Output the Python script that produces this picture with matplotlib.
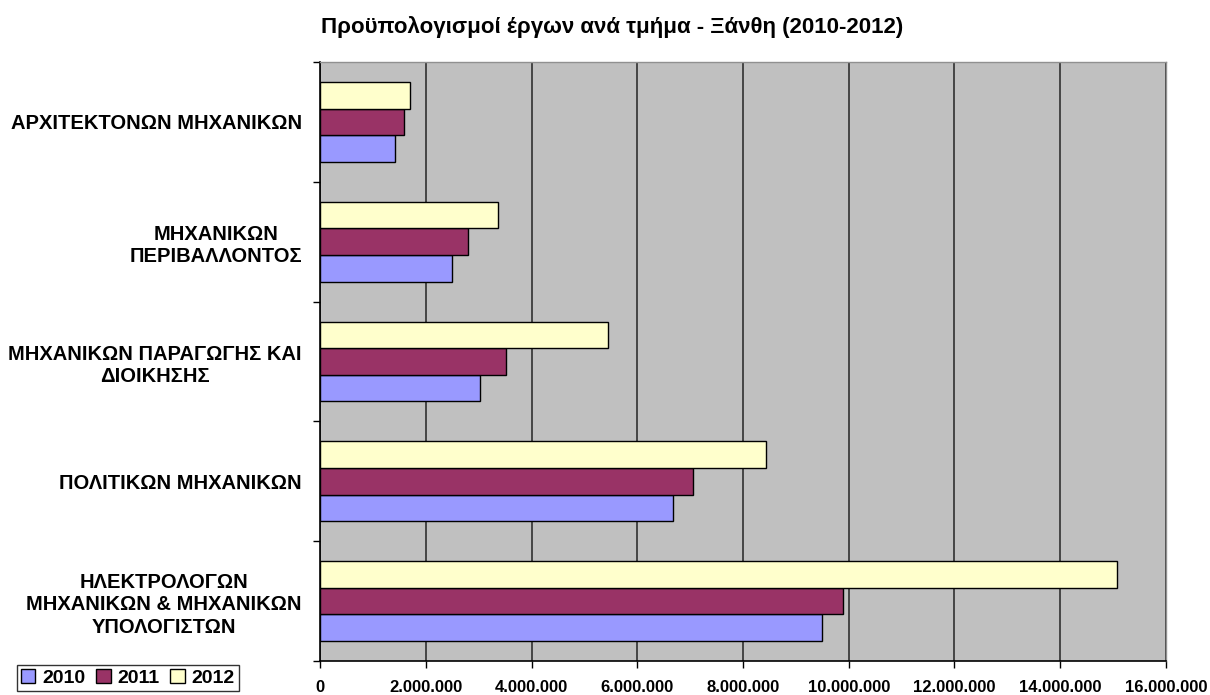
import matplotlib
matplotlib.use('Agg')
import matplotlib.pyplot as plt
from matplotlib.ticker import FuncFormatter
import numpy as np

plt.rcParams['font.family'] = ['Liberation Sans', 'DejaVu Sans']

# data (bottom -> top)
departments = [
    'ΗΛΕΚΤΡΟΛΟΓΩΝ\nΜΗΧΑΝΙΚΩΝ & ΜΗΧΑΝΙΚΩΝ\nΥΠΟΛΟΓΙΣΤΩΝ',
    'ΠΟΛΙΤΙΚΩΝ ΜΗΧΑΝΙΚΩΝ',
    'ΜΗΧΑΝΙΚΩΝ ΠΑΡΑΓΩΓΗΣ ΚΑΙ\nΔΙΟΙΚΗΣΗΣ',
    'ΜΗΧΑΝΙΚΩΝ\nΠΕΡΙΒΑΛΛΟΝΤΟΣ',
    'ΑΡΧΙΤΕΚΤΟΝΩΝ ΜΗΧΑΝΙΚΩΝ',
]
years = ['2010', '2011', '2012']
budget_2010 = [9500000, 6670000, 3030000, 2500000, 1410000]
budget_2011 = [9890000, 7060000, 3520000, 2800000, 1590000]
budget_2012 = [15070000, 8430000, 5450000, 3370000, 1700000]

colors = ['#9999FF', '#993366', '#FFFFCC']
BG = '#C0C0C0'

fig = plt.figure(figsize=(12.1, 6.95), dpi=100)
ax = fig.add_axes([0.2645, 0.0489, 0.6991, 0.8619])
ax.set_facecolor(BG)

y = np.arange(len(departments))
h = 0.222
for i, (vals, col, yr) in enumerate(zip([budget_2010, budget_2011, budget_2012], colors, years)):
    ax.barh(y + (i - 1) * h, vals, height=h, color=col, edgecolor='black',
            linewidth=1.0, label=yr, zorder=3)

ax.set_xlim(0, 16000000)
ax.set_ylim(-0.5, len(departments) - 0.5)
ax.set_xticks(np.arange(0, 16000001, 2000000))
ax.xaxis.set_major_formatter(FuncFormatter(lambda v, p: f'{int(v):,}'.replace(',', '.')))
ax.grid(axis='x', color='#303030', linewidth=1.2, zorder=1)

# category boundaries as ticks, labels at centers
ax.set_yticks(np.arange(-0.5, len(departments), 1.0))
ax.set_yticklabels([])
ax.set_yticks(y, minor=True)
ax.set_yticklabels(departments, minor=True, fontsize=14.5, fontweight='bold',
                   multialignment='center', linespacing=1.25)
ax.tick_params(axis='y', which='minor', length=0, pad=13)
ax.tick_params(axis='y', which='major', length=5, width=1, color='black', direction='out')
ax.tick_params(axis='x', length=5, width=1, color='black', direction='out', pad=9,
               labelsize=12)
for lab in ax.get_xticklabels():
    lab.set_fontweight('bold')

for s in ['top', 'right']:
    ax.spines[s].set_color('#909090')
    ax.spines[s].set_linewidth(1)
for s in ['left', 'bottom']:
    ax.spines[s].set_color('black')
    ax.spines[s].set_linewidth(1.2)

fig.text(612 / 1210, 1 - 27 / 695, 'Προϋπολογισμοί έργων ανά τμήμα - Ξάνθη (2010-2012)',
         ha='center', va='center', fontsize=16, fontweight='bold')

leg = fig.legend(loc='upper left', bbox_to_anchor=(17 / 1210, 1 - 665 / 695), ncol=3,
                 frameon=True, fancybox=False, edgecolor='black',
                 prop={'weight': 'bold', 'size': 14},
                 handlelength=0.75, handleheight=0.75, handletextpad=0.35,
                 columnspacing=0.55, borderpad=0.2, borderaxespad=0.0)
leg.get_frame().set_linewidth(1.0)

fig.savefig('out.png', dpi=100, facecolor='white')
